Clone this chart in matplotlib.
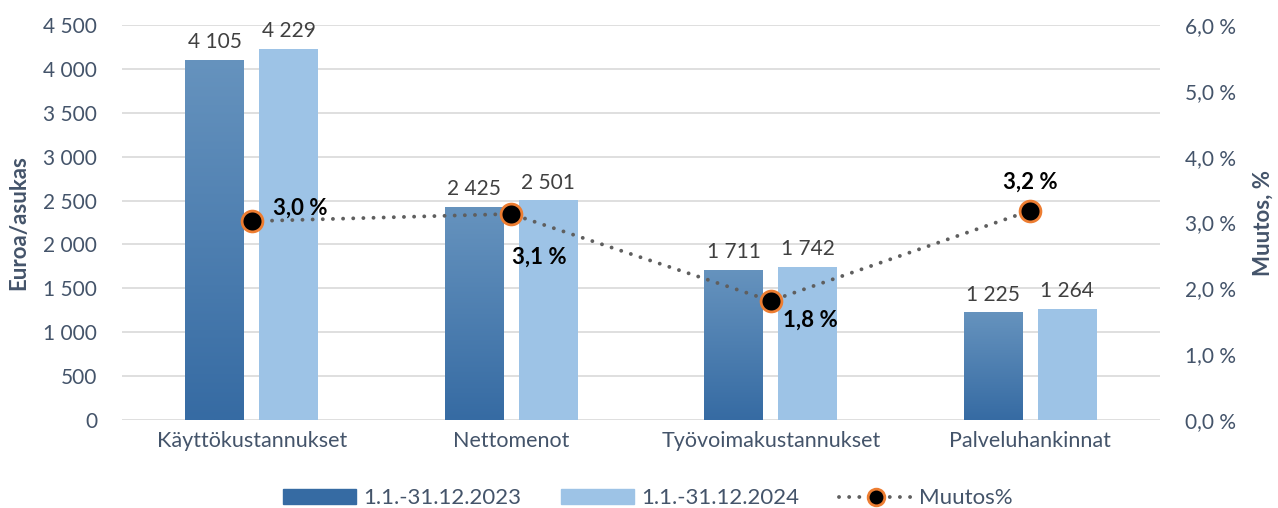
import matplotlib.pyplot as plt
import numpy as np
from matplotlib.lines import Line2D
from matplotlib.patches import Patch

plt.rcParams['font.family'] = ['Lato', 'DejaVu Sans']

# Data
categories = ["Käyttökustannukset", "Nettomenot", "Työvoimakustannukset", "Palveluhankinnat"]
values_2023 = [4105, 2425, 1711, 1225]
values_2024 = [4229, 2501, 1742, 1264]
change_pct = [3.02, 3.13, 1.81, 3.18]
series_labels = ["1.1.-31.12.2023", "1.1.-31.12.2024", "Muutos%"]
y_ticks = [0, 500, 1000, 1500, 2000, 2500, 3000, 3500, 4000, 4500]
y2_ticks = [0, 1, 2, 3, 4, 5, 6]

text_col = "#44546A"
dark_top = np.array([0x66, 0x93, 0xBE]) / 255
dark_bot = np.array([0x36, 0x6B, 0xA3]) / 255
light_col = "#9DC3E6"
dots = (0, (0.01, 2.6))

fig = plt.figure(figsize=(12.78, 5.08), dpi=100)
ax = fig.add_axes([122 / 1278, 1 - 420 / 508, 1038 / 1278, 395 / 508])
ax2 = ax.twinx()

x = np.arange(len(categories))
width = 0.227
off = 0.1426

# gradient image for dark bars
grad = np.linspace(0, 1, 256)[:, None]
img = dark_bot[None, None, :] * (1 - grad[..., None]) + dark_top[None, None, :] * grad[..., None]

bars1 = ax.bar(x - off, values_2023, width, color=dark_bot, zorder=2)
for b in bars1:
    b.set_alpha(0)
    im = ax.imshow(img, extent=[b.get_x(), b.get_x() + b.get_width(), 0, b.get_height()],
                   origin='lower', aspect='auto', zorder=2)
    im.set_clip_path(b)
bars2 = ax.bar(x + off, values_2024, width, color=light_col, zorder=2)
ax.set_xlim(-0.5, len(categories) - 0.5)
ax.set_ylim(0, 4500)
ax2.set_ylim(0, 6)

def fmt(v):
    return f"{v:,}".replace(",", " ")

for b, v in zip(list(bars1) + list(bars2), values_2023 + values_2024):
    ax.text(b.get_x() + b.get_width() / 2, v + 90, fmt(v), ha='center', va='bottom',
            fontsize=15, color="#404040")

ax.set_yticks(y_ticks)
ax.set_yticklabels([fmt(v) for v in y_ticks])
ax.set_xticks(x)
ax.set_xticklabels(categories)
ax.grid(axis='y', color="#D9D9D9", lw=1.2, zorder=0)
ax.set_axisbelow(True)
ax.tick_params(axis='both', length=0, labelsize=15, labelcolor=text_col, pad=8)
ax.tick_params(axis='x', labelsize=15.5)
ax.tick_params(axis='y', pad=18)
for s in ax.spines.values():
    s.set_visible(False)
for s in ax2.spines.values():
    s.set_visible(False)
ax.set_ylabel("Euroa/asukas", fontsize=16, fontweight='bold', color=text_col, labelpad=10)

ax2.plot(x, change_pct, linestyle=dots, color="#5F5F5F", lw=2.8,
         dash_capstyle='round', marker='o', markersize=15, markerfacecolor='black',
         markeredgecolor='#ED7D31', markeredgewidth=2, zorder=5)
ax2.set_yticks(y2_ticks)
ax2.set_yticklabels([f"{v:.1f} %".replace(".", ",") for v in y2_ticks])
ax2.tick_params(axis='y', length=0, labelsize=15, labelcolor=text_col, pad=18)
ax2.set_ylabel("Muutos, %", fontsize=16, fontweight='bold', color=text_col, labelpad=12)

label_pos = [(21, 13, 'left', 'center'), (1, -43, 'left', 'center'),
             (12, -19, 'left', 'center'), (0, 28, 'center', 'center')]
for xi, v, (dx, dy, ha, va) in zip(x, change_pct, label_pos):
    ax2.annotate(f"{v:.1f} %".replace(".", ","), (xi, v), xytext=(dx, dy),
                 textcoords='offset pixels', ha=ha, va=va, fontsize=16,
                 fontweight='bold', color='black', zorder=6)

handles = [Patch(color=dark_bot), Patch(color=light_col),
           Line2D([], [], linestyle=dots, color="#5F5F5F", lw=2.8,
                  dash_capstyle='round', marker='o', markersize=12, markerfacecolor='black',
                  markeredgecolor='#ED7D31', markeredgewidth=2)]
fig.legend(handles, series_labels, loc='lower center', bbox_to_anchor=(0.507, -0.04), ncol=3,
           frameon=False, fontsize=16, labelcolor=text_col, handlelength=3.3, handleheight=0.7,
           handletextpad=0.3, columnspacing=1.8)

fig.savefig("out.png", dpi=100)
